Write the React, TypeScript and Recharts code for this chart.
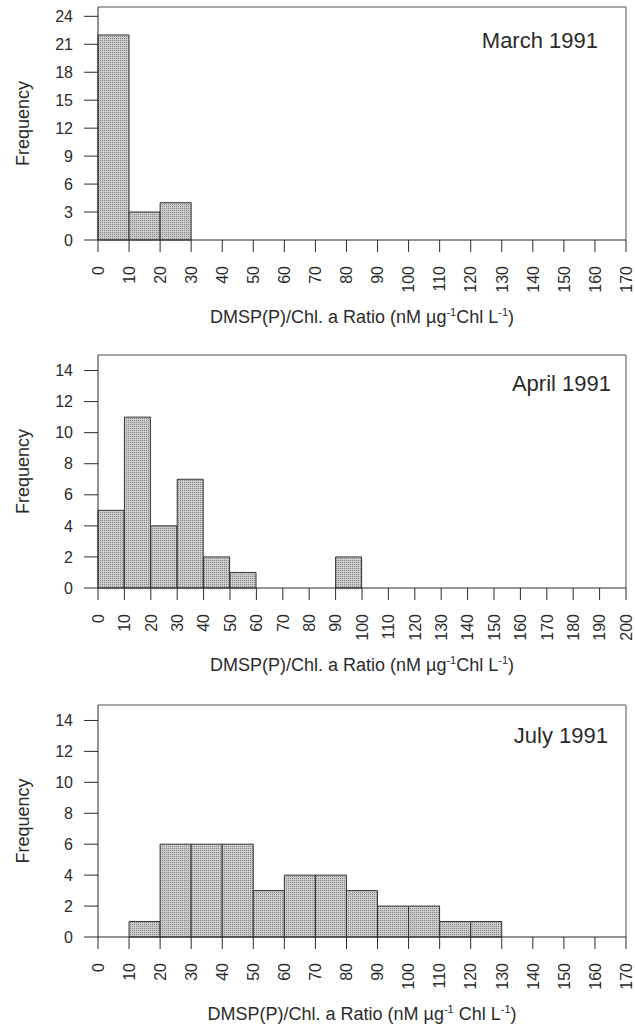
import { BarChart, Bar, XAxis, YAxis, ReferenceLine } from 'recharts'

// bin lower edges (width 10) and counts per month
const marchBins = [0, 10, 20, 30, 40, 50, 60, 70, 80, 90, 100, 110, 120, 130, 140, 150, 160]
const marchFreq = [22, 3, 4, 0, 0, 0, 0, 0, 0, 0, 0, 0, 0, 0, 0, 0, 0]
const marchTicks = [0, 10, 20, 30, 40, 50, 60, 70, 80, 90, 100, 110, 120, 130, 140, 150, 160, 170]
const marchYTicks = [0, 3, 6, 9, 12, 15, 18, 21, 24]

const aprilBins = [0, 10, 20, 30, 40, 50, 60, 70, 80, 90, 100, 110, 120, 130, 140, 150, 160, 170, 180, 190]
const aprilFreq = [5, 11, 4, 7, 2, 1, 0, 0, 0, 2, 0, 0, 0, 0, 0, 0, 0, 0, 0, 0]
const aprilTicks = [0, 10, 20, 30, 40, 50, 60, 70, 80, 90, 100, 110, 120, 130, 140, 150, 160, 170, 180, 190, 200]
const aprilYTicks = [0, 2, 4, 6, 8, 10, 12, 14]

const julyBins = [0, 10, 20, 30, 40, 50, 60, 70, 80, 90, 100, 110, 120, 130, 140, 150, 160]
const julyFreq = [0, 1, 6, 6, 6, 3, 4, 4, 3, 2, 2, 1, 1, 0, 0, 0, 0]
const julyTicks = [0, 10, 20, 30, 40, 50, 60, 70, 80, 90, 100, 110, 120, 130, 140, 150, 160, 170]
const julyYTicks = [0, 2, 4, 6, 8, 10, 12, 14]

const FONT = '"Liberation Sans", Arial, sans-serif'
const INK = '#2b2b2b'

function XTick({ x, y, payload }: any) {
  return (
    <g transform={`translate(${x},${y})`}>
      <text transform="rotate(-90)" textAnchor="end" dy="0.36em" fontSize={16} fill={INK} fontFamily={FONT}>
        {payload.value}
      </text>
    </g>
  )
}

interface PanelProps {
  id: string
  bins: number[]
  freq: number[]
  xTicks: number[]
  yTicks: number[]
  yMax: number
  title: string
  top: number
  marginTop: number
  plotH: number
  height: number
  titleRight: number
  titleDown: number
  gap: boolean
}

function Panel(p: PanelProps) {
  const data = p.bins.map((lo, i) => ({ lo, freq: p.freq[i] }))
  const xMax = p.xTicks[p.xTicks.length - 1]
  const axisH = p.height - p.marginTop - p.plotH
  const patId = `dots-${p.id}`
  return (
    <div style={{ position: 'absolute', left: 0, top: p.top }}>
      <BarChart
        width={635}
        height={p.height}
        data={data}
        margin={{ top: p.marginTop, right: 9, left: 0, bottom: 0 }}
        barCategoryGap={0}
      >
        <defs>
          <pattern id={patId} width={2} height={2} patternUnits="userSpaceOnUse">
            <rect width={2} height={2} fill="#cccccc" />
            <rect width={1} height={1} fill="#858585" />
          </pattern>
        </defs>
        <XAxis dataKey="lo" type="category" hide height={0} />
        <XAxis
          xAxisId="n"
          dataKey="lo"
          type="number"
          domain={[0, xMax]}
          ticks={p.xTicks}
          interval={0}
          height={axisH}
          tickSize={12}
          tickMargin={14}
          tick={<XTick />}
          stroke={INK}
          label={{
            content: ({ viewBox }: any) => (
              <text
                x={viewBox.x + viewBox.width / 2}
                y={viewBox.y + 83}
                textAnchor="middle"
                fontSize={18}
                fill={INK}
                fontFamily={FONT}
              >
                DMSP(P)/Chl. a Ratio (nM µg
                <tspan dy={-7} fontSize={11}>-1</tspan>
                <tspan dy={7}>{p.gap ? ' Chl L' : 'Chl L'}</tspan>
                <tspan dy={-7} fontSize={11}>-1</tspan>
                <tspan dy={7}>)</tspan>
              </text>
            ),
          }}
        />
        <YAxis
          type="number"
          domain={[0, p.yMax]}
          ticks={p.yTicks}
          interval={0}
          width={98}
          tickSize={14}
          tickMargin={11}
          stroke={INK}
          tick={{ fontSize: 16, fill: INK, fontFamily: FONT }}
          label={{
            content: ({ viewBox }: any) => {
              const cx = 23
              const cy = viewBox.y + viewBox.height / 2
              return (
                <text
                  x={cx}
                  y={cy}
                  transform={`rotate(-90, ${cx}, ${cy})`}
                  textAnchor="middle"
                  dominantBaseline="central"
                  fontSize={18}
                  fill={INK}
                  fontFamily={FONT}
                >
                  Frequency
                </text>
              )
            },
          }}
        />
        <Bar dataKey="freq" fill={`url(#${patId})`} stroke="#333" strokeWidth={1} isAnimationActive={false} />
        <ReferenceLine
          y={p.yMax}
          stroke="#8a8a8a"
          strokeWidth={1.5}
          label={{
            content: ({ viewBox }: any) => (
              <text
                x={viewBox.x + viewBox.width - p.titleRight}
                y={viewBox.y + p.titleDown + 8}
                textAnchor="end"
                fontSize={22}
                fill={INK}
                fontFamily={FONT}
              >
                {p.title}
              </text>
            ),
          }}
        />
        <ReferenceLine xAxisId="n" x={xMax} stroke="#8a8a8a" strokeWidth={1.5} />
      </BarChart>
    </div>
  )
}

export default function App() {
  return (
    <div style={{ position: 'absolute', left: 0, top: 0, width: 635, height: 1026, background: '#fff' }}>
      <Panel
        id="mar"
        bins={marchBins}
        freq={marchFreq}
        xTicks={marchTicks}
        yTicks={marchYTicks}
        yMax={25}
        title="March 1991"
        top={0}
        marginTop={7}
        plotH={233}
        height={340}
        titleRight={28}
        titleDown={33}
        gap={false}
      />
      <Panel
        id="apr"
        bins={aprilBins}
        freq={aprilFreq}
        xTicks={aprilTicks}
        yTicks={aprilYTicks}
        yMax={15}
        title="April 1991"
        top={340}
        marginTop={15}
        plotH={233}
        height={340}
        titleRight={15}
        titleDown={28}
        gap={false}
      />
      <Panel
        id="jul"
        bins={julyBins}
        freq={julyFreq}
        xTicks={julyTicks}
        yTicks={julyYTicks}
        yMax={15}
        title="July 1991"
        top={690}
        marginTop={15}
        plotH={232}
        height={336}
        titleRight={18}
        titleDown={30}
        gap={true}
      />
    </div>
  )
}
